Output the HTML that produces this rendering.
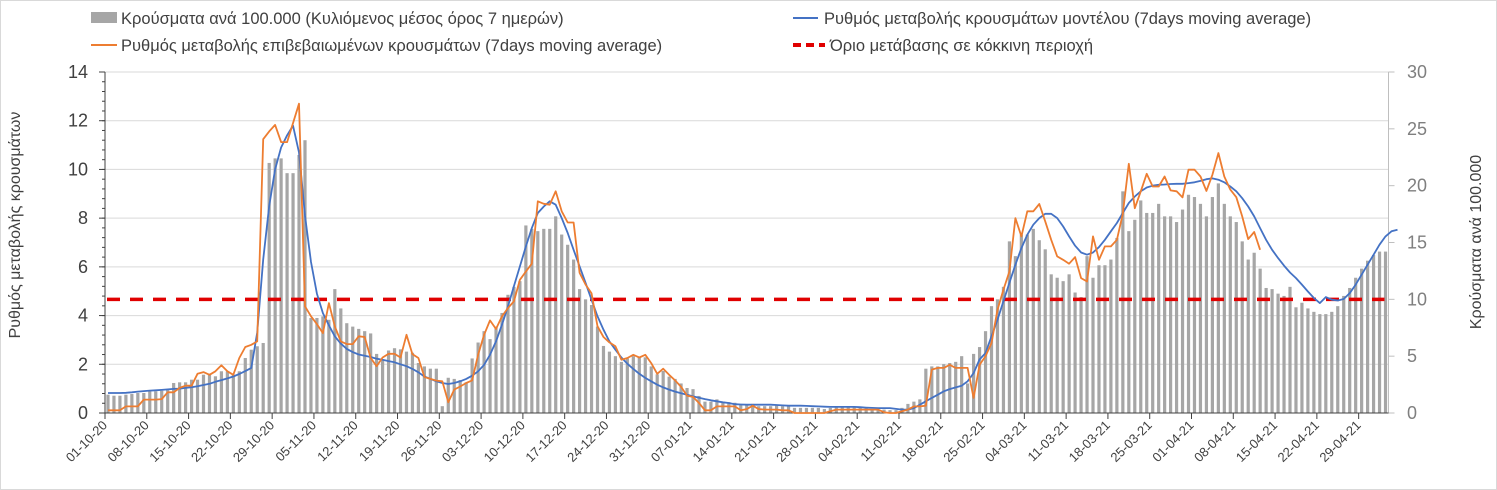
<!DOCTYPE html>
<html><head><meta charset="utf-8">
<style>
html,body{margin:0;padding:0;background:#fff;}
svg{display:block;font-family:"Liberation Sans",sans-serif;}
</style></head>
<body>
<svg id="chart" width="1497" height="490" xmlns="http://www.w3.org/2000/svg">
<rect x="0.5" y="0.5" width="1496" height="489" fill="#fff" stroke="#d9d9d9"/>
<g id="legend" font-size="16.5" fill="#404040">
  <g>
    <rect x="91" y="12" width="26" height="11" fill="#a6a6a6"/>
    <text x="121" y="24">Κρούσματα ανά 100.000 (Κυλιόμενος μέσος όρος 7 ημερών)</text>
  </g>
  <g>
    <line x1="793" y1="18" x2="818" y2="18" stroke="#4472c4" stroke-width="2"/>
    <text x="824" y="24">Ρυθμός μεταβολής κρουσμάτων μοντέλου (7days moving average)</text>
  </g>
  <g>
    <line x1="91" y1="45" x2="117" y2="45" stroke="#ed7d31" stroke-width="2"/>
    <text x="121" y="51">Ρυθμός μεταβολής επιβεβαιωμένων κρουσμάτων (7days moving average)</text>
  </g>
  <g>
    <line x1="793" y1="45" x2="825" y2="45" stroke="#e00000" stroke-width="4" stroke-dasharray="8,5"/>
    <text x="830" y="51">Όριο μετάβασης σε κόκκινη περιοχή</text>
  </g>
</g>
<text transform="translate(20,225) rotate(-90)" text-anchor="middle" font-size="16" fill="#404040">Ρυθμός μεταβολής κρουσμάτων</text>
<text transform="translate(1481,242) rotate(-90)" text-anchor="middle" font-size="16" fill="#404040">Κρούσματα ανά 100.000</text>
<g id="grid"></g>
<g id="bars"></g>
<g id="axes"></g>
<g id="lines"></g>
</svg>
<script>
const startDate = [2020, 10, 1];
const leftTicks = [0, 2, 4, 6, 8, 10, 12, 14];
const rightTicks = [0, 5, 10, 15, 20, 25, 30];
const threshold = 10;
const cases = [1.61,1.52,1.52,1.61,1.67,1.76,1.76,1.91,1.91,1.96,2.05,2.64,2.70,2.70,2.93,2.93,3.37,3.37,3.23,3.67,3.67,3.37,3.67,4.84,5.57,5.87,6.16,22.0,22.4,22.4,21.1,21.1,22.7,24.0,8.36,8.36,8.5,8.2,10.9,9.2,7.9,7.6,7.4,7.2,7.0,5.2,4.7,5.5,5.7,5.6,5.4,5.3,4.4,4.1,3.9,3.9,0.6,3.1,3.0,2.9,2.7,4.8,6.2,7.2,6.5,7.6,8.8,10.4,11.1,11.6,16.5,16.2,16.0,
16.2,16.2,17.3,15.7,14.8,13.5,10.9,10.0,9.5,7.6,5.9,5.4,5.0,4.5,4.8,5.0,4.9,4.9,4.1,3.4,3.7,3.2,3.0,2.6,2.2,2.1,1.5,1.0,1.0,1.2,1.0,0.95,0.9,0.7,0.75,0.8,0.6,0.6,0.6,0.65,0.6,0.6,0.45,0.45,0.45,0.45,0.45,0.35,0.45,0.6,0.55,0.55,0.55,0.55,0.45,0.35,0.3,0.3,0.25,0.25,0.45,0.8,1.0,1.2,3.9,4.1,4.1,4.3,4.4,4.5,5.0,2.6,5.2,5.8,7.2,
9.4,10.0,11.1,15.1,13.8,15.7,15.7,16.2,15.2,14.4,12.2,11.9,11.6,12.2,10.6,10.2,13.8,11.9,13.0,13.0,13.5,15.4,19.5,16.0,17.0,18.7,17.6,17.6,18.4,17.3,17.3,16.8,17.9,19.2,19.0,18.4,17.3,19.0,20.2,18.4,17.3,16.8,15.1,13.5,14.1,12.7,11.0,10.9,10.5,10.3,11.1,9.3,9.7,9.2,8.9,8.7,8.7,8.9,9.4,10.3,11.0,11.9,12.7,13.4,13.9,14.2,14.2];
const modelRate = [0.82,0.82,0.82,0.83,0.85,0.88,0.9,0.92,0.93,0.95,0.97,0.99,1.0,1.03,1.06,1.1,1.15,1.2,1.28,1.35,1.42,1.5,1.6,1.72,1.85,3.3,6.3,8.5,10.0,10.9,11.4,11.8,10.7,8.1,6.2,4.9,4.1,3.6,3.15,2.85,2.63,2.5,2.4,2.35,2.3,2.23,2.19,2.13,2.08,2.0,1.92,1.81,1.67,1.5,1.4,1.3,1.23,1.19,1.23,1.3,1.4,1.53,1.71,1.98,2.39,2.94,3.63,4.38,5.2,6.02,6.84,7.59,8.21,
8.48,8.69,8.55,8.0,7.39,6.7,6.02,5.34,4.65,3.97,3.42,2.94,2.6,2.28,2.02,1.81,1.61,1.44,1.3,1.16,1.05,0.96,0.88,0.81,0.75,0.68,0.63,0.57,0.52,0.48,0.44,0.41,0.36,0.35,0.34,0.34,0.34,0.34,0.34,0.33,0.31,0.3,0.3,0.3,0.29,0.28,0.27,0.26,0.25,0.25,0.25,0.25,0.25,0.24,0.22,0.21,0.2,0.2,0.2,0.17,0.14,0.14,0.2,0.34,0.48,0.62,0.75,0.89,0.98,1.05,1.12,1.3,1.64,2.2,2.46,
3.15,3.83,4.58,5.34,6.09,6.77,7.32,7.73,8.0,8.18,8.18,8.0,7.66,7.25,6.87,6.59,6.5,6.59,6.81,7.11,7.46,7.8,8.21,8.62,8.89,9.1,9.26,9.33,9.37,9.38,9.4,9.41,9.41,9.44,9.47,9.53,9.6,9.63,9.58,9.47,9.3,9.1,8.82,8.48,8.07,7.59,7.11,6.7,6.36,6.05,5.77,5.54,5.27,4.99,4.72,4.51,4.76,4.65,4.62,4.68,4.92,5.27,5.68,6.09,6.5,6.91,7.25,7.46,7.52];
const confirmedRate = [0.11,0.11,0.11,0.27,0.27,0.27,0.55,0.55,0.55,0.57,0.85,0.85,1.03,1.12,1.12,1.61,1.68,1.57,1.71,1.96,1.71,1.57,2.26,2.71,2.8,2.94,11.24,11.56,11.83,11.12,11.12,11.9,12.7,4.38,3.97,3.65,3.28,4.51,3.56,2.94,2.83,2.83,3.15,3.12,2.26,1.92,2.28,2.43,2.43,2.28,3.21,2.42,2.26,1.48,1.4,1.33,1.3,0.44,0.96,1.09,1.23,1.34,2.39,3.21,3.8,3.45,3.97,4.31,4.58,5.47,5.81,6.13,8.69,
8.59,8.55,9.1,8.28,7.82,7.82,5.75,5.27,4.92,3.56,3.12,2.9,2.74,2.19,2.26,2.39,2.28,2.39,2.05,1.61,1.82,1.57,1.34,1.07,0.71,0.66,0.41,0.11,0.11,0.27,0.27,0.27,0.27,0.11,0.16,0.3,0.16,0.14,0.14,0.14,0.11,0.11,0,0,0,0,0,0,0.07,0.14,0.14,0.14,0.14,0.14,0.14,0.14,0.14,0.03,0,0,0.07,0.14,0.27,0.27,0.3,1.78,1.85,1.85,1.98,1.85,1.85,1.85,0.62,1.98,
2.33,2.87,4.24,5.06,5.81,8.0,7.25,8.28,8.28,8.58,7.87,7.11,6.43,6.29,6.13,6.4,5.54,5.4,7.25,6.29,6.84,6.84,7.11,8.18,10.23,8.41,9.1,9.82,9.3,9.3,9.71,9.14,9.1,8.85,9.99,9.99,9.71,9.12,9.78,10.67,9.71,9.17,8.86,8.07,7.14,7.43,6.7];

const NS = "http://www.w3.org/2000/svg";
const X0 = 105, X1 = 1388.5, Y0 = 413, YT = 72;
const nDays = cases.length;
const dayW = (X1 - X0) / nDays;
function xDay(i){ return X0 + (i + 0.5) * dayW; }
function xEdge(i){ return X0 + i * dayW; }
function yLeft(v){ return Y0 - v / 14 * (Y0 - YT); }
function yRight(v){ return Y0 - v / 30 * (Y0 - YT); }
function mk(tag, attrs, parent){
  const e = document.createElementNS(NS, tag);
  for (const k in attrs) e.setAttribute(k, attrs[k]);
  parent.appendChild(e);
  return e;
}
const grid = document.getElementById('grid');
const axes = document.getElementById('axes');
const barsG = document.getElementById('bars');
const linesG = document.getElementById('lines');

leftTicks.forEach(function(t){
  const y = yLeft(t);
  if (t > 0) {
    const g = mk('line', {x1: X0, x2: X1, y1: y, y2: y, stroke: '#d9d9d9', 'stroke-width': 1}, grid);
    
    
  }
  const tk = mk('line', {x1: X0 - 6, x2: X0, y1: y, y2: y, stroke: '#404040', 'stroke-width': 1}, axes);
  
  
  const lb = mk('text', {x: 88, y: y + 6, 'text-anchor': 'end', 'font-size': 18, fill: '#404040'}, axes);
  lb.textContent = t;
  
  
});
for (let v = 0; v < 14; v += 0.4) {
  const y = yLeft(v);
  const mt = mk('line', {x1: X0 - 3, x2: X0, y1: y, y2: y, stroke: '#404040', 'stroke-width': 1}, axes);
  
  
}
rightTicks.forEach(function(t){
  const y = yRight(t);
  const tk = mk('line', {x1: X1, x2: X1 + 6, y1: y, y2: y, stroke: '#bfbfbf', 'stroke-width': 1}, axes);
  
  
  const lb = mk('text', {x: 1407, y: y + 6, 'font-size': 18, fill: '#7f7f7f'}, axes);
  lb.textContent = t;
  
  
});
const la = mk('line', {x1: X0, x2: X0, y1: YT, y2: Y0, stroke: '#404040', 'stroke-width': 1}, axes);


const ra = mk('line', {x1: X1, x2: X1, y1: YT, y2: Y0, stroke: '#bfbfbf', 'stroke-width': 1}, axes);


const xa = mk('line', {x1: X0, x2: X1, y1: Y0, y2: Y0, stroke: '#404040', 'stroke-width': 1}, axes);



function pad(n){ return (n < 10 ? '0' : '') + n; }
for (let i = 0; i < nDays; i += 7) {
  const x = xEdge(i);
  const tk = mk('line', {x1: x, x2: x, y1: Y0, y2: Y0 + 6, stroke: '#404040', 'stroke-width': 1}, axes);
  
  
  const d = new Date(startDate[0], startDate[1] - 1, startDate[2] + i);
  const s = pad(d.getDate()) + '-' + pad(d.getMonth() + 1) + '-' + String(d.getFullYear()).slice(2);
  const lb = mk('text', {x: 0, y: 0, 'text-anchor': 'end', 'font-size': 13, fill: '#404040', transform: 'translate(' + (x + 3) + ',' + (Y0 + 13) + ') rotate(-45)'}, axes);
  lb.textContent = s;
  
  
}

cases.forEach(function(v, i){
  const y = yRight(v);
  const b = mk('rect', {x: xDay(i) - 1.6, y: y, width: 3.2, height: Y0 - y, fill: '#a6a6a6'}, barsG);
  
  
});

const ty = yRight(threshold);
const th = mk('line', {x1: X0 + 2, x2: X1 - 4, y1: ty, y2: ty, stroke: '#e00000', 'stroke-width': 3.5, 'stroke-dasharray': '13,10'}, linesG);



const pm = modelRate.map(function(v, i){ return xDay(i).toFixed(1) + ',' + yLeft(v).toFixed(1); }).join(' ');
const lm = mk('polyline', {points: pm, fill: 'none', stroke: '#4472c4', 'stroke-width': 1.8, 'stroke-linejoin': 'round'}, linesG);



const pc = confirmedRate.map(function(v, i){ return xDay(i).toFixed(1) + ',' + yLeft(v).toFixed(1); }).join(' ');
const lc = mk('polyline', {points: pc, fill: 'none', stroke: '#ed7d31', 'stroke-width': 1.8, 'stroke-linejoin': 'round'}, linesG);


</script>
</body></html>
